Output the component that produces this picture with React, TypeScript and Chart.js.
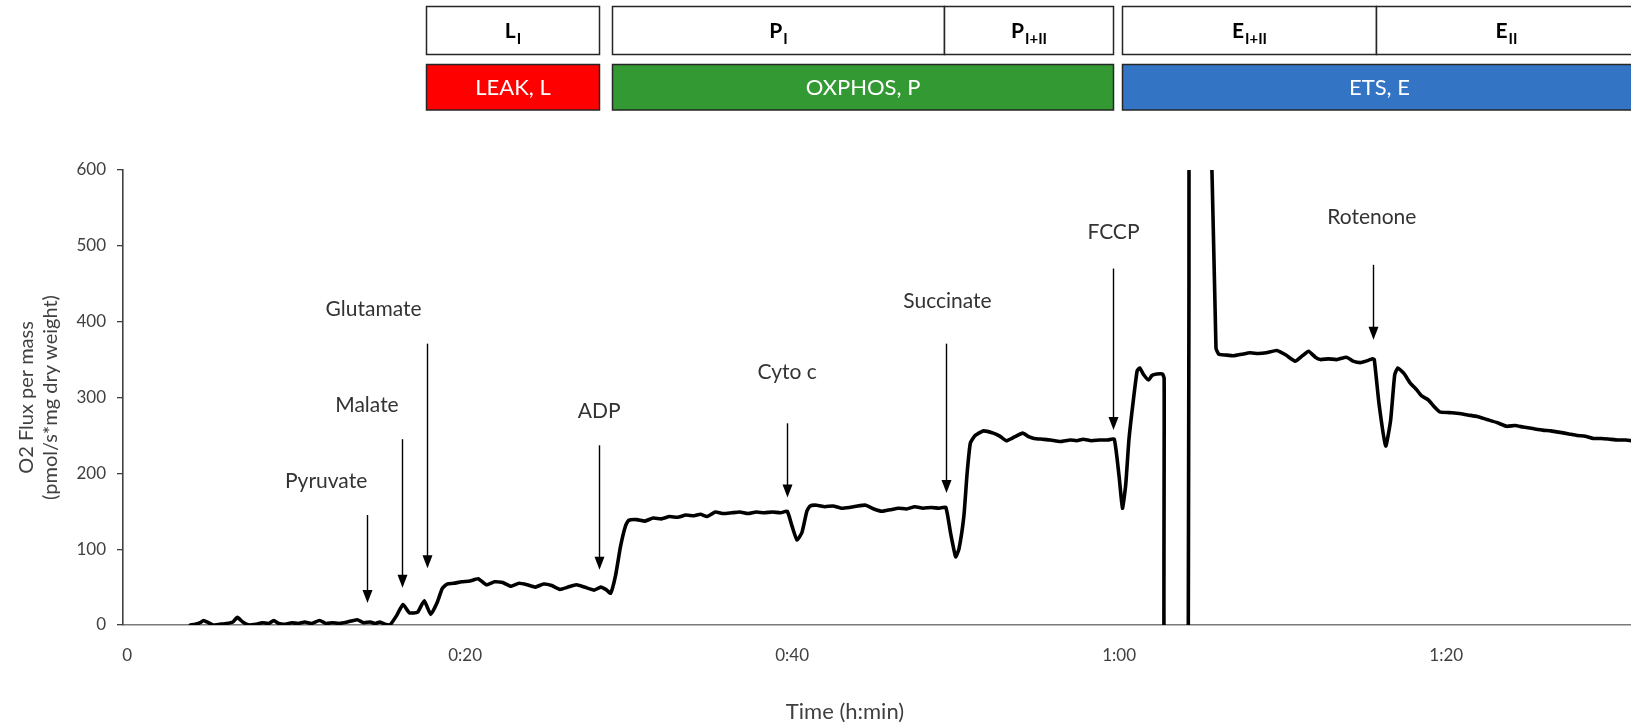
import React, { useEffect, useRef } from "react";
import { Chart, registerables } from "chart.js";

Chart.register(...registerables);

// ---------- data ----------
const timeMin = [
  3.2, 3.5, 3.8, 4.0, 4.3, 4.6, 5.0, 5.4, 5.8, 6.07, 6.4, 6.8, 7.2, 7.6, 8.0, 8.3, 8.6, 9.0, 9.4, 9.8,
  10.2, 10.6, 11.1, 11.5, 11.9, 12.3, 12.8, 13.4, 13.8, 14.2, 14.5, 14.8, 15.1, 15.4,
  15.8, 16.2, 16.6, 17.1, 17.5, 17.9, 18.3, 18.6, 18.9, 19.3, 19.8, 20.3, 20.8, 21.3, 21.8, 22.3,
  22.8, 23.3, 23.8, 24.3, 24.8, 25.3, 25.8, 26.3, 26.8, 27.3, 27.9, 28.3, 28.6, 28.9, 29.2, 29.5, 29.8, 30.0,
  30.5, 31.0, 31.5, 32.0, 32.5, 33.0, 33.5, 34.0, 34.4, 34.8, 35.3, 35.8, 36.3, 36.8, 37.3, 37.8, 38.3, 38.8, 39.3, 39.7,
  40.0, 40.3, 40.6, 40.9, 41.1,
  41.5, 42.0, 42.5, 43.0, 43.5, 44.0, 44.5, 45.0, 45.5, 46.0, 46.5, 47.0, 47.5, 48.0, 48.5, 49.0, 49.4,
  49.7, 50.0, 50.2, 50.5, 50.7, 50.9, 51.2, 51.7,
  52.3, 52.7, 53.1, 53.6, 54.1, 54.5, 54.8, 55.3, 55.8, 56.4, 57.0, 57.4, 57.8, 58.3, 58.8, 59.3, 59.7,
  60.0, 60.2, 60.4, 60.6, 60.87, 61.1, 61.25, 61.5, 61.8, 62.0, 62.3, 62.65, 62.75, 62.85,
  64.2, 64.28, 65.44, 65.92, 66.1,
  66.5, 67.0, 67.5, 68.0, 68.5, 69.0, 69.64, 70.2, 70.76, 71.2, 71.58, 72.0, 72.3, 72.8, 73.3, 73.9, 74.3, 74.75, 75.1, 75.5,
  75.6, 75.9, 76.3, 76.6, 76.85, 77.04, 77.4, 77.8, 78.2, 78.5, 78.9, 79.3, 79.6, 80.2, 80.8, 81.3, 81.9, 82.5, 83.1, 83.7,
  84.2, 84.7, 85.3, 85.9, 86.4, 86.97, 87.5, 88.0, 88.5, 89.0, 89.5, 90.0, 90.5, 91.0, 91.3,
];

const o2Flux = [
  0, 1, 3, 6, 3, 0, 1, 2, 4, 10, 4, 0, 1, 3, 2, 6, 2, 1, 3, 2,
  4, 2, 6, 2, 3, 2, 4, 7, 3, 4, 2, 4, 1, 0,
  12, 27, 16, 17, 32, 14, 30, 48, 54, 55, 57, 58, 61, 53, 57, 56,
  51, 55, 53, 50, 54, 52, 47, 50, 53, 50, 46, 50, 47, 42, 65, 103, 130, 138,
  139, 137, 141, 140, 143, 142, 145, 144, 146, 143, 149, 147, 148, 149, 147, 149, 148, 149, 148, 150,
  130, 112, 122, 150, 157,
  158, 156, 157, 154, 155, 157, 158, 153, 150, 152, 154, 153, 156, 154, 155, 154, 155,
  120, 90, 100, 143, 200, 240, 250, 256,
  253, 249, 243, 248, 253, 248, 246, 245, 244, 242, 244, 243, 245, 243, 244, 244, 245,
  195, 154, 185, 245, 297, 335, 339, 330, 323, 329, 331, 331, 325, -300,
  -300, 1200, 800, 365, 357,
  356, 355, 357, 359, 358, 359, 362, 356, 348, 355, 361, 353, 350, 351, 350, 353, 348, 346, 348, 351,
  350, 290, 236, 270, 330, 339, 332, 319, 310, 302, 297, 287, 281, 280, 279, 277, 275, 271, 267, 262,
  263, 261, 259, 257, 256, 254, 252, 250, 249, 246, 246, 245, 244, 244, 243,
];

// x axis (minutes)
const xMin = -0.92;
const xMax = 91.3;
const xTickValues = [-0.67, 20, 40, 60, 80];
const xTickLabels = ["0", "0:20", "0:40", "1:00", "1:20"];
const yMin = 0;
const yMax = 600;
const yStep = 100;

// injections (arrows)
const injNames = ["Pyruvate", "Malate", "Glutamate", "ADP", "Cyto c", "Succinate", "FCCP", "Rotenone"];
const injTime = [14.0, 16.13, 17.7, 28.2, 39.71, 49.4, 59.6, 75.5];
const injArrowTop = [145, 245, 371, 237, 266, 371, 470, 475];
const injArrowTip = [29, 49, 75, 73, 168, 174, 257, 376];
const injLabelTime = [11.5, 14.0, 14.4, 28.2, 39.7, 49.5, 59.65, 75.45];
const injLabelFlux = [189, 290, 417, 282, 333, 427, 518, 538];

// respiratory states (top rows)
const stateMain = ["L", "P", "P", "E", "E"];
const stateSub = ["I", "I", "I+II", "I+II", "II"];
const stateStart = [17.6, 29.0, 49.3, 60.2, 75.7];
const stateEnd = [28.2, 49.3, 59.6, 75.7, 91.6];

const phaseNames = ["LEAK, L", "OXPHOS, P", "ETS, E"];
const phaseStart = [17.6, 29.0, 60.2];
const phaseEnd = [28.2, 59.6, 91.6];
const phaseColors = ["#FF0000", "#339933", "#3474C4"];

const FONT = "Lato";

const overlayPlugin = {
  id: "overlay",
  afterDraw(chart: any) {
    const { ctx, scales } = chart;
    const x = scales.x;
    const y = scales.y;
    ctx.save();

    // --- state row (white boxes) ---
    const r1Top = 6.5, r1H = 48;
    const r2Top = 64.5, r2H = 45.5;
    ctx.lineWidth = 1.5;
    ctx.strokeStyle = "#262626";
    for (let i = 0; i < stateMain.length; i++) {
      const x0 = Math.round(x.getPixelForValue(stateStart[i])) + 0.5;
      const x1 = Math.round(x.getPixelForValue(stateEnd[i])) + 0.5;
      ctx.fillStyle = "#ffffff";
      ctx.fillRect(x0, r1Top, x1 - x0, r1H);
      ctx.strokeRect(x0, r1Top, x1 - x0, r1H);
      const cx = (x0 + x1) / 2;
      const cy = r1Top + r1H / 2;
      ctx.fillStyle = "#000000";
      ctx.font = `bold 21px ${FONT}`;
      const wm = ctx.measureText(stateMain[i]).width;
      ctx.font = `bold 15px ${FONT}`;
      const ws = ctx.measureText(stateSub[i]).width;
      const sx = cx - (wm + ws + 1) / 2;
      ctx.textAlign = "left";
      ctx.textBaseline = "alphabetic";
      ctx.font = `bold 21px ${FONT}`;
      ctx.fillText(stateMain[i], sx, cy + 7);
      ctx.font = `bold 15px ${FONT}`;
      ctx.fillText(stateSub[i], sx + wm + 1, cy + 13);
    }

    // --- phase row (coloured boxes) ---
    for (let i = 0; i < phaseNames.length; i++) {
      const x0 = Math.round(x.getPixelForValue(phaseStart[i])) + 0.5;
      const x1 = Math.round(x.getPixelForValue(phaseEnd[i])) + 0.5;
      ctx.fillStyle = phaseColors[i];
      ctx.fillRect(x0, r2Top, x1 - x0, r2H);
      ctx.strokeStyle = "#262626";
      ctx.strokeRect(x0, r2Top, x1 - x0, r2H);
      ctx.fillStyle = "#ffffff";
      ctx.font = `22px ${FONT}`;
      ctx.textAlign = "center";
      ctx.textBaseline = "middle";
      ctx.fillText(phaseNames[i], (x0 + x1) / 2, r2Top + r2H / 2 + 1);
    }

    // --- injection arrows ---
    ctx.strokeStyle = "#000000";
    ctx.fillStyle = "#000000";
    ctx.lineWidth = 1.4;
    for (let i = 0; i < injNames.length; i++) {
      const px = Math.round(x.getPixelForValue(injTime[i])) + 0.5;
      const yTop = y.getPixelForValue(injArrowTop[i]);
      const yTip = y.getPixelForValue(injArrowTip[i]);
      const headH = 13, headW = 5;
      ctx.beginPath();
      ctx.moveTo(px, yTop);
      ctx.lineTo(px, yTip - headH + 1);
      ctx.stroke();
      ctx.beginPath();
      ctx.moveTo(px, yTip);
      ctx.lineTo(px - headW, yTip - headH);
      ctx.lineTo(px + headW, yTip - headH);
      ctx.closePath();
      ctx.fill();

      ctx.fillStyle = "#333333";
      ctx.font = `21px ${FONT}`;
      ctx.textAlign = "center";
      ctx.textBaseline = "middle";
      ctx.fillText(injNames[i], x.getPixelForValue(injLabelTime[i]), y.getPixelForValue(injLabelFlux[i]));
      ctx.fillStyle = "#000000";
    }

    // --- x axis title ---
    ctx.fillStyle = "#404040";
    ctx.font = `22px ${FONT}`;
    ctx.textAlign = "center";
    ctx.textBaseline = "middle";
    ctx.fillText("Time (h:min)", chart.chartArea.left + 722, 712);

    ctx.restore();
  },
};

export default function App() {
  const canvasRef = useRef<HTMLCanvasElement | null>(null);

  useEffect(() => {
    document.body.style.margin = "0";
    const points = timeMin.map((t, i) => ({ x: t, y: o2Flux[i] }));
    const chart = new Chart(canvasRef.current as HTMLCanvasElement, {
      type: "line",
      data: {
        datasets: [
          {
            data: points,
            borderColor: "#000000",
            borderWidth: 3.6,
            pointRadius: 0,
            tension: 0.15,
            fill: false,
            borderJoinStyle: "round",
            borderCapStyle: "round",
          },
        ],
      },
      options: {
        responsive: false,
        animation: false,
        events: [],
        parsing: false as any,
        layout: { padding: { top: 170, left: 0, right: 0, bottom: 0 } },
        plugins: {
          legend: { display: false },
          tooltip: { enabled: false },
        },
        scales: {
          x: {
            type: "linear",
            min: xMin,
            max: xMax,
            afterFit: (scale: any) => {
              scale.height = 101;
            },
            afterBuildTicks: (scale: any) => {
              scale.ticks = xTickValues.map((v) => ({ value: v }));
            },
            ticks: {
              autoSkip: false,
              maxRotation: 0,
              padding: 20,
              color: "#404040",
              font: { family: FONT, size: 17 },
              callback: (_v: any, index: number) => xTickLabels[index],
            },
            grid: { display: false, drawTicks: false },
            border: { display: true, color: "#7a7a7a", width: 1.6 },
          },
          y: {
            type: "linear",
            min: yMin,
            max: yMax,
            afterFit: (scale: any) => {
              scale.width = 123;
            },
            ticks: {
              stepSize: yStep,
              padding: 11,
              color: "#404040",
              font: { family: FONT, size: 17 },
            },
            grid: {
              display: true,
              drawOnChartArea: false,
              drawTicks: true,
              tickLength: 6,
              color: "#404040",
              lineWidth: 1.3,
            },
            border: { display: true, color: "#404040", width: 1.6 },
            title: {
              display: true,
              text: ["O2 Flux per mass", "(pmol/s*mg dry weight)"],
              color: "#404040",
              font: { family: FONT, size: 20, lineHeight: 1.17 },
              padding: { top: 15, bottom: 0 },
            },
          },
        },
      },
      plugins: [overlayPlugin],
    } as any);
    return () => chart.destroy();
  }, []);

  return (
    <div style={{ position: "absolute", left: 0, top: 0, width: 1631, height: 726 }}>
      <canvas ref={canvasRef} width={1631} height={726} style={{ display: "block" }} />
    </div>
  );
}
